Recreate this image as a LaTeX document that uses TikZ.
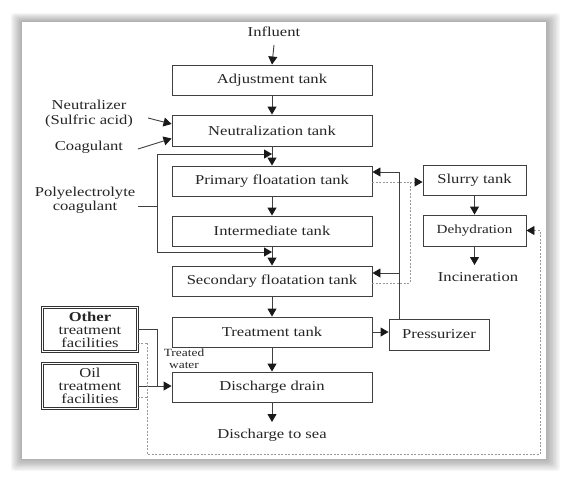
\documentclass[tikz,border=0pt]{standalone}
\usepackage{fontspec}
\setmainfont{Liberation Serif}[FakeStretch=1.22]
\usetikzlibrary{arrows.meta,calc}
\begin{document}
\begin{tikzpicture}[x=1pt,y=-1pt,
 txt/.style={font=\fontsize{13.6}{14.5}\selectfont, text=black!85, inner sep=0pt},
 box/.style={txt, draw=black!75, line width=0.9pt, minimum height=30pt, align=center},
 mainbox/.style={box, minimum width=200pt},
 sidebox/.style={box, minimum width=103pt},
 facbox/.style={txt, draw=black!80, double=white, double distance=1.6pt, line width=0.9pt, minimum width=95pt, minimum height=44pt, align=center, font=\fontsize{13.6}{13}\selectfont},
 arr/.style={draw=black!75, line width=0.9pt, -{Triangle[width=9pt,length=8pt,color=black!90]}},
 ln/.style={draw=black!75, line width=0.9pt},
 dsh/.style={draw=black!40, line width=0.9pt, dash pattern=on 2pt off 1.5pt},
 darr/.style={dsh, -{Triangle[width=9pt,length=8pt,color=black!90]}}]
\useasboundingbox (0,0) rectangle (569,482);
% shadow and panel
\foreach \i in {1,...,10}
  \fill[black, opacity=0.035, rounded corners=3pt] (22-\i*1.1, 22-\i*0.9) rectangle (546+\i*1.4, 459+\i*1.2);
\fill[white] (22,22) rectangle (546,459);

% main column
\node[txt] (inf) at (274,32) {Influent};
\node[mainbox] (adj) at (272,80) {Adjustment tank};
\node[mainbox, minimum height=31pt] (neu) at (272,130.5) {Neutralization tank};
\node[mainbox] (pri) at (272,181) {Primary floatation tank};
\node[mainbox] (int) at (272,231) {Intermediate tank};
\node[mainbox] (sec) at (272,281) {Secondary floatation tank};
\node[mainbox] (tre) at (272,332) {Treatment tank};
\node[mainbox] (dis) at (272,387) {Discharge drain};
\node[txt] (sea) at (272,435) {Discharge to sea};

% right side
\node[sidebox] (slu) at (474.5,180) {Slurry tank};
\node[sidebox, font=\fontsize{12.4}{14}\selectfont, minimum height=31pt] (deh) at (474.5,230.5) {Dehydration};
\node[txt] (inc) at (478,277) {Incineration};
\node[box, minimum width=100pt, minimum height=31pt] (pre) at (439,334.5) {Pressurizer};

% left side
\node[facbox] (oth) at (90,329.5) {\textbf{Other}\\treatment\\facilities};
\node[facbox, minimum height=45pt] (oil) at (90,386) {Oil\\treatment\\facilities};
\node[txt, align=center] (neut) at (89,113.5) {Neutralizer\\(Sulfric acid)};
\node[txt] (coag) at (89,147) {Coagulant};
\node[txt, align=center] (poly) at (85,200) {Polyelectrolyte\\coagulant};
\node[txt, font=\fontsize{11}{12}\selectfont, align=center] (tw) at (184,359) {Treated\\water};

% coordinates
\coordinate (infb) at (274,45);
\coordinate (seat) at (272,422);
\coordinate (incb) at (474.5,265);
\coordinate (na) at (148,118);
\coordinate (ca) at (138,149);
\coordinate (ps) at (138,206);
\coordinate (pj) at (157,206);
\coordinate (pt1) at (157,154);
\coordinate (pt2) at (157,252);
\coordinate (pv) at (399,319);
\coordinate (dj) at (410,182);
\coordinate (d1) at (147,343);
\coordinate (d0) at (147,397);
\coordinate (d2) at (147,454);
\coordinate (d3) at (540,454);
\coordinate (vj) at (157,386);

% main flow
\draw[arr] (infb) -- (adj.north);
\draw[arr] (adj) -- (neu);
\draw[arr] (neu) -- (pri);
\draw[arr] (pri) -- (int);
\draw[arr] (int) -- (sec);
\draw[arr] (sec) -- (tre);
\draw[arr] (tre) -- (dis);
\draw[arr] (dis.south) -- (seat);

% chemicals
\draw[arr] (na) -- ([yshift=6.5pt]neu.west);
\draw[arr] (ca) -- ([yshift=-8pt]neu.west);
\draw[ln] (ps) -- (pj);
\draw[arr] (pj) -- (pt1) -- (neu.south |- pt1);
\draw[arr] (pj) -- (pt2) -- (int.south |- pt2);

% pressurizer
\draw[arr] (tre.east) -- (tre.east -| pre.west);
\draw[arr] (pv) |- ([yshift=9pt]pri.east);
\draw[arr] (pv) |- ([yshift=8pt]sec.east);

% sludge
\draw[dsh] ([yshift=-1pt]pri.east) -- (dj);
\draw[dsh] ([yshift=-2pt]sec.east) -| (dj);
\draw[darr] (dj) -- (dj -| slu.west);
\draw[arr] (slu) -- (deh);
\draw[arr] (deh.south) -- (incb);

% other facilities
\draw[ln] (oth.east) -| (vj);
\draw[arr] (oil.east) -- (oil.east -| dis.west);
\draw[dsh] ([yshift=-13.5pt]oth.east) -- (d1);
\draw[dsh] ([yshift=-11pt]oil.east) -- (d0);
\draw[darr] (d1) -- (d2) -- (d3) |- (deh.east);
\end{tikzpicture}
\end{document}
